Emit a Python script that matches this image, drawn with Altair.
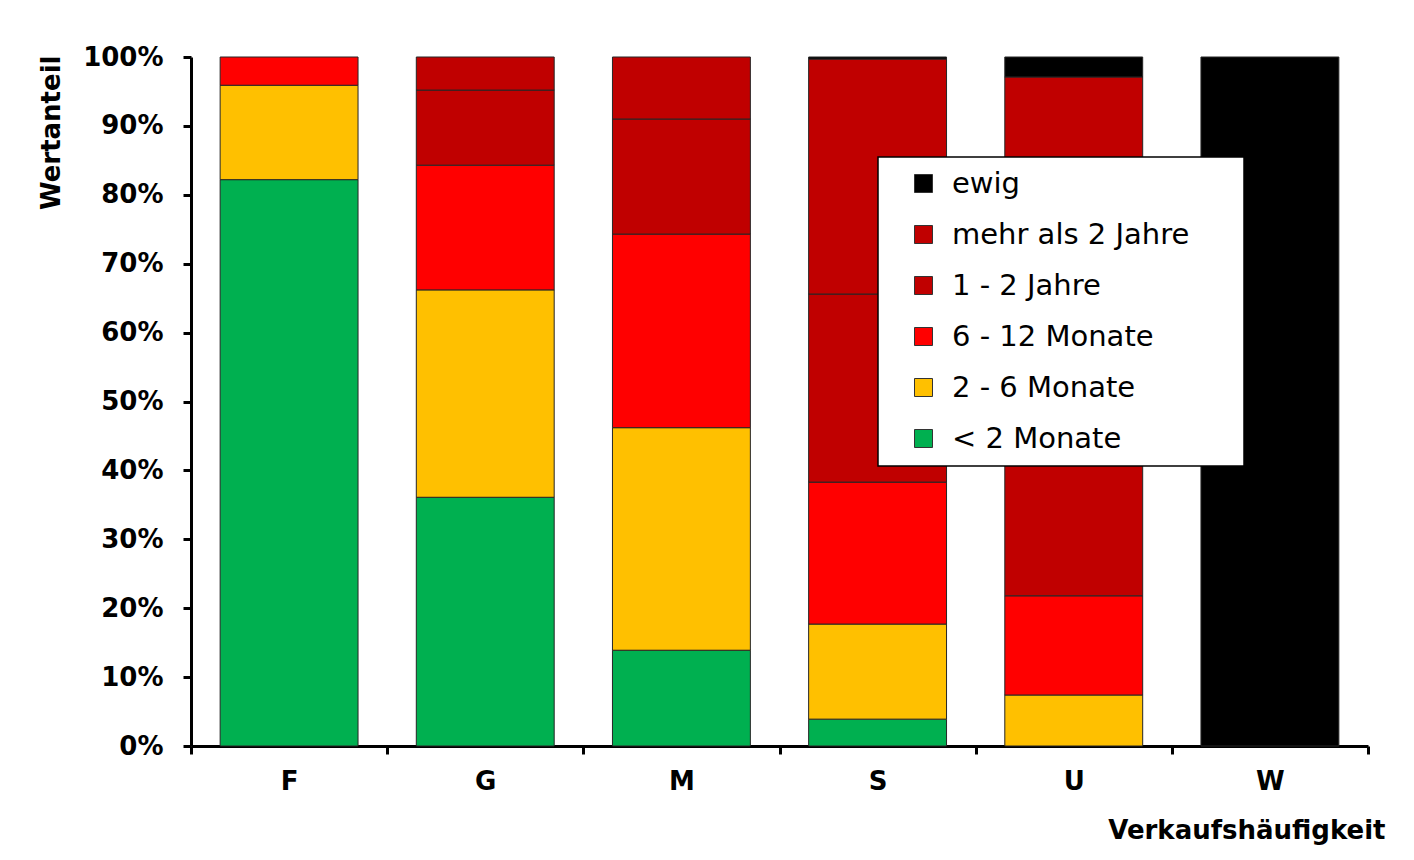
import altair as alt
import pandas as pd

categories = ["F", "G", "M", "S", "U", "W"]
series = ["< 2 Monate", "2 - 6 Monate", "6 - 12 Monate", "1 - 2 Jahre", "mehr als 2 Jahre", "ewig"]
lt2 = [82.2, 36.1, 13.9, 3.9, 0.0, 0.0]
m2_6 = [13.7, 30.1, 32.3, 13.8, 7.4, 0.0]
m6_12 = [4.1, 18.1, 28.1, 20.6, 14.4, 0.0]
j1_2 = [0.0, 10.9, 16.7, 27.3, 35.0, 0.0]
mehr2 = [0.0, 4.8, 9.0, 34.1, 40.3, 0.0]
ewig = [0.0, 0.0, 0.0, 0.3, 2.9, 100.0]
series_colors = ["#00B050", "#FFC000", "#FF0000", "#C00000", "#C00000", "#000000"]

rows = []
for si, (name, vals) in enumerate(zip(series, [lt2, m2_6, m6_12, j1_2, mehr2, ewig])):
    for c, v in zip(categories, vals):
        if v > 0:
            rows.append({"Kategorie": c, "Dauer": name, "Anteil": v, "Ordnung": si})
df = pd.DataFrame(rows)

legend_domain = list(reversed(series))
legend_range = list(reversed(series_colors))

chart = alt.Chart(df).mark_bar(
    stroke="#262626", strokeWidth=1, width=alt.RelativeBandSize(0.703)
).encode(
    x=alt.X(
        "Kategorie:N",
        sort=categories,
        title="Verkaufshäufigkeit",
        scale=alt.Scale(paddingInner=0, paddingOuter=0),
        axis=alt.Axis(
            labelAngle=0,
            tickBand="extent",
            labelPadding=14,
            titleAnchor="end",
            titleAlign="right",
            titleBaseline="middle",
            titleX=1194,
            titleY=84,
        ),
    ),
    y=alt.Y(
        "Anteil:Q",
        stack="normalize",
        scale=alt.Scale(domain=[0, 1]),
        title="Wertanteil",
        axis=alt.Axis(
            format=".0%",
            values=[i / 10 for i in range(11)],
            labelPadding=20,
            titleAngle=270,
            titleAlign="right",
            titleBaseline="middle",
            titleX=-140,
            titleY=-2,
        ),
    ),
    color=alt.Color(
        "Dauer:N",
        scale=alt.Scale(domain=legend_domain, range=legend_range),
        legend=alt.Legend(
            title=None,
            orient="none",
            legendX=687,
            legendY=100,
            fillColor="white",
            strokeColor="black",
            padding=12,
            symbolType="square",
            symbolSize=324,
            symbolOffset=19,
            symbolStrokeColor="#333333",
            symbolStrokeWidth=1,
            symbolOpacity=1,
            labelFont="DejaVu Sans",
            labelFontSize=29,
            labelColor="black",
            labelOffset=14,
            rowPadding=21,
            labelLimit=0,
            labelExpr="datum.label + '\u2800\u2800'",
        ),
    ),
    order=alt.Order("Ordnung:Q", sort="ascending"),
).properties(
    width=1177,
    height=689,
    padding={"left": 183, "top": 49, "right": 38, "bottom": 106},
    autosize=alt.AutoSizeParams(type="none"),
    background="white",
).configure_view(
    stroke=None
).configure_axis(
    grid=False,
    domainColor="black",
    domainWidth=3,
    tickColor="black",
    tickWidth=3,
    tickSize=8,
    labelFont="DejaVu Sans",
    labelFontWeight="bold",
    labelFontSize=26,
    labelColor="black",
    titleFont="DejaVu Sans",
    titleFontWeight="bold",
    titleFontSize=26,
    titleColor="black",
).configure_legend(
    strokeWidth=1.5
)

chart.save("out.html", embed_options={"renderer": "svg", "actions": False})
